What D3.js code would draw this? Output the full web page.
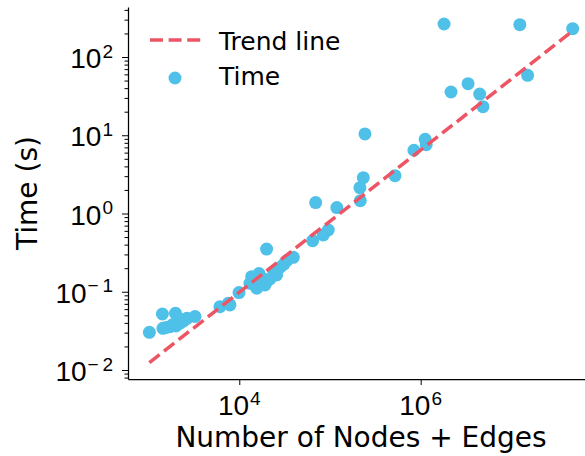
<!DOCTYPE html>
<html>
<head>
<meta charset="utf-8">
<script src="https://cdn.jsdelivr.net/npm/d3@7"></script>
<style>
  html, body { margin: 0; padding: 0; background: #fff; }
  svg { display: block; font-family: "DejaVu Sans", sans-serif; }
</style>
</head>
<body>
<svg id="chart" width="585" height="456"></svg>
<script>
// ---- data ----
const nodesEdges = [
  1.81e6, 1.24e7, 4.74e7, 1.51e7, 2.16e6, 3.33e6, 4.47e6, 4.86e6,
  2.43e5, 1.12e6, 1.15e6, 8.43e5, 5.21e5, 2.33e5, 2.14e5, 2.16e5,
  6.95e4, 1.19e5, 9.57e4, 8.44e4, 6.44e4,
  2.0e4, 3.94e4, 3.36e4, 2.81e4, 2.42e4, 1.65e4, 1.37e4, 1.31e4,
  1.69e4, 2.02e4, 2.58e4, 1.56e4, 9.93e3, 7.89e3, 6.12e3, 7.57e3,
  1.78e4, 3.11e4, 2.18e4, 1.45e4, 1.92e4,
  1.02e3, 1.42e3, 1.98e3, 3.25e3, 2.65e3, 2.22e3, 1.72e3, 1.44e3,
  2.0e3, 1.56e3, 2.43e3, 1.86e3, 2.11e3
];
const timeSec = [
  264, 259, 230, 58.4, 35.7, 45.6, 33.6, 23.2,
  10.4, 8.87, 7.57, 6.43, 3.04, 2.87, 2.14, 1.46,
  1.38, 1.19, 0.615, 0.531, 0.449,
  0.351, 0.275, 0.251, 0.204, 0.176, 0.171, 0.156, 0.128,
  0.126, 0.137, 0.164, 0.111, 0.0977, 0.0678, 0.0645, 0.0711,
  0.150, 0.226, 0.146, 0.141, 0.122,
  0.0303, 0.052, 0.0531, 0.0483, 0.0458, 0.0396, 0.0357, 0.0341,
  0.0365, 0.0349, 0.0423, 0.0382, 0.0463
];
const trendX = [1.02e3, 4.74e7];
const trendY = [0.0124, 215];
const xTickValues = [1e4, 1e6];
const xTickExps = ["4", "6"];
const yTickValues = [1e-2, 1e-1, 1e0, 1e1, 1e2];
const yTickExps = ["\u2212\u20092", "\u2212\u20091", "0", "1", "2"];
const legendLabels = ["Trend line", "Time"];
const xLabel = "Number of Nodes + Edges";
const yLabel = "Time (s)";

// ---- layout ----
const plotLeft = 128, plotRight = 594, plotTop = 7, plotBottom = 379;
const blue = "#4FC1E9", red = "#ED5565";
const tickFont = 28, supFont = 19, supRaise = -10.5;

const svg = d3.select("#chart");
const x = d3.scaleLog().domain([Math.pow(10, 2.773), Math.pow(10, 7.911)]).range([plotLeft, plotRight]);
const y = d3.scaleLog().domain([Math.pow(10, -2.115), Math.pow(10, 2.639)]).range([plotBottom, plotTop]);

// minor y ticks
const yMinor = [];
for (let e = -3; e <= 2; e++) for (let k = 2; k <= 9; k++) {
  const v = k * Math.pow(10, e);
  if (v >= y.domain()[0] && v <= y.domain()[1]) yMinor.push(v);
}

// points (drawn below the line)
svg.append("g").selectAll("circle")
  .data(nodesEdges.map((d, i) => [d, timeSec[i]]))
  .join("circle")
  .attr("cx", d => x(d[0]))
  .attr("cy", d => y(d[1]))
  .attr("r", 6.5)
  .attr("fill", blue);

// trend line
svg.append("path")
  .datum(trendX.map((d, i) => [d, trendY[i]]))
  .attr("d", d3.line().x(d => x(d[0])).y(d => y(d[1])))
  .attr("fill", "none")
  .attr("stroke", red)
  .attr("stroke-width", 3.5)
  .attr("stroke-dasharray", "13,5.6");

// y axis
const gy = svg.append("g").attr("transform", `translate(${plotLeft},0)`);
gy.call(d3.axisLeft(y).tickValues(yTickValues).tickSize(6).tickSizeOuter(0).tickFormat(""));
gy.append("g").call(d3.axisLeft(y).tickValues(yMinor).tickSize(3.5).tickSizeOuter(0).tickFormat(""))
  .select(".domain").remove();
gy.selectAll(".domain").attr("stroke", "#000").attr("stroke-width", 1.25);
gy.selectAll(".tick line").attr("stroke", "#000").attr("stroke-width", 1);

yTickValues.forEach((v, i) => {
  const t = gy.append("text")
    .attr("x", -15)
    .attr("y", y(v) + 11)
    .attr("text-anchor", "end")
    .attr("font-size", tickFont)
    .attr("fill", "#000");
  t.append("tspan").text("10");
  t.append("tspan").attr("dx", 1).attr("dy", supRaise).attr("font-size", supFont).text(yTickExps[i]);
});

// x axis
const gx = svg.append("g").attr("transform", `translate(0,${plotBottom})`);
gx.call(d3.axisBottom(x).tickValues(xTickValues).tickSize(6).tickSizeOuter(0).tickFormat(""));
gx.selectAll(".domain").attr("stroke", "#000").attr("stroke-width", 1.25);
gx.selectAll(".tick line").attr("stroke", "#000").attr("stroke-width", 1);

xTickValues.forEach((v, i) => {
  const t = gx.append("text")
    .attr("x", x(v))
    .attr("y", 36)
    .attr("text-anchor", "middle")
    .attr("font-size", tickFont)
    .attr("fill", "#000");
  t.append("tspan").text("10");
  t.append("tspan").attr("dx", 1).attr("dy", supRaise).attr("font-size", supFont).text(xTickExps[i]);
});

// axis labels
svg.append("text")
  .attr("x", (plotLeft + plotRight) / 2)
  .attr("y", 447)
  .attr("text-anchor", "middle")
  .attr("font-size", 28)
  .attr("fill", "#000")
  .text(xLabel);

svg.append("text")
  .attr("transform", `translate(37,${(plotTop + plotBottom) / 2}) rotate(-90)`)
  .attr("text-anchor", "middle")
  .attr("font-size", 28)
  .attr("fill", "#000")
  .text(yLabel);

// legend
const lg = svg.append("g");
lg.append("line")
  .attr("x1", 150).attr("x2", 201).attr("y1", 40).attr("y2", 40)
  .attr("stroke", red).attr("stroke-width", 3.5).attr("stroke-dasharray", "13,5.6");
lg.append("text").attr("x", 219).attr("y", 49.5).attr("font-size", 25).attr("fill", "#000").text(legendLabels[0]);
lg.append("circle").attr("cx", 175).attr("cy", 78).attr("r", 6.5).attr("fill", blue);
lg.append("text").attr("x", 219).attr("y", 85).attr("font-size", 25).attr("fill", "#000").text(legendLabels[1]);
</script>
</body>
</html>
